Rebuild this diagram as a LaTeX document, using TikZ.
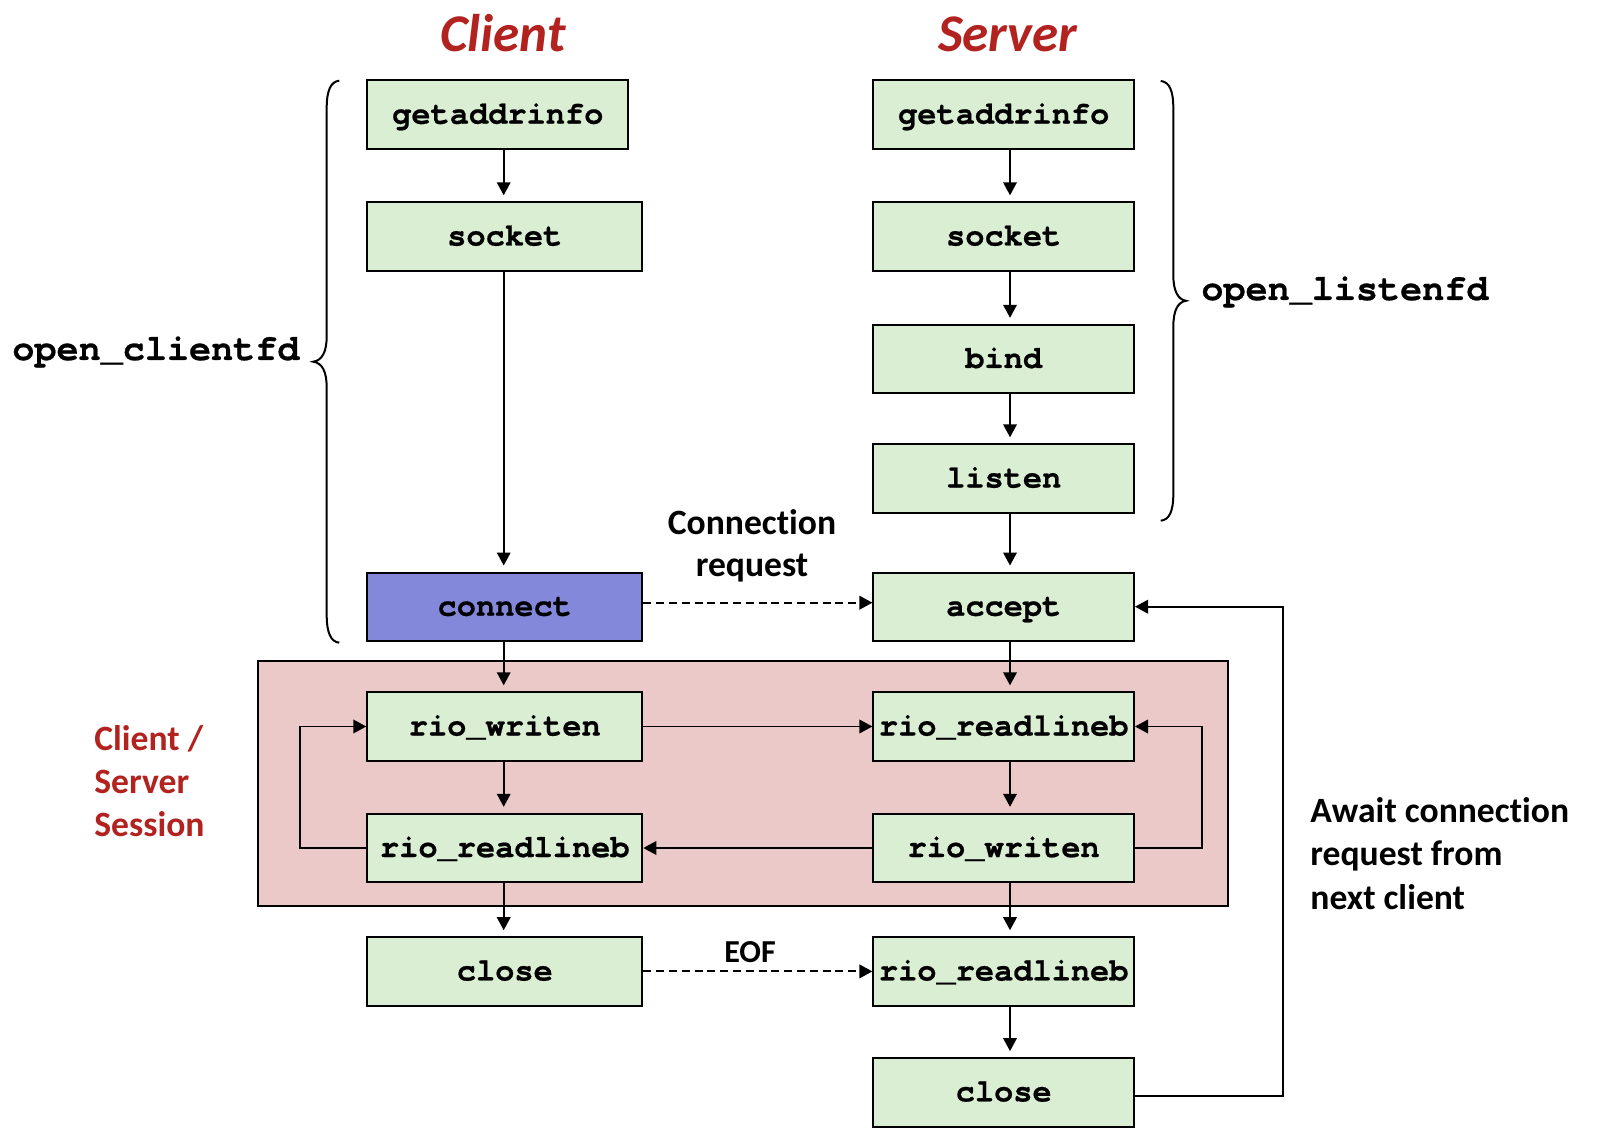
\documentclass[tikz,border=0pt]{standalone}
\usepackage{fontspec}
\setmainfont{Carlito}[Ligatures={NoCommon,NoDiscretionary}]
\newfontfamily\cour{texgyrecursor}[Extension=.otf, UprightFont=*-regular, BoldFont=*-bold, BoldFeatures={FakeBold=0.6}]
\usetikzlibrary{arrows.meta}
\definecolor{boxgreen}{RGB}{218,238,212}
\definecolor{connblue}{RGB}{132,136,218}
\definecolor{sesspink}{RGB}{235,201,200}
\definecolor{titlered}{RGB}{178,34,30}
\begin{document}
\begin{tikzpicture}[x=0.5pt,y=-0.5pt,
  fn/.style={draw=black, line width=1pt, fill=boxgreen, minimum height=34.2pt, inner sep=0pt,
    text height=11pt, text depth=2pt, text=black, font=\cour\bfseries\fontsize{16}{19}\selectfont},
  cw/.style={minimum width=137.5pt},
  sw/.style={minimum width=130.3pt},
  conn/.style={line width=0.85pt, -{Triangle[length=6.5pt,width=6.8pt]}},
  vconn/.style={conn, shorten >=3pt},
  dashconn/.style={conn, line width=1pt, dash pattern=on 4pt off 2.4pt},
  bracepath/.style={line width=1pt},
  monolbl/.style={inner sep=0pt, anchor=base west, font=\cour\bfseries\fontsize{18.4}{22}\selectfont},
  sanslbl/.style={inner sep=0pt, font=\bfseries\fontsize{17.8}{21}\selectfont},
  redlbl/.style={sanslbl, anchor=base west, text=titlered},
  title/.style={inner sep=0pt, anchor=base, text=titlered, font=\bfseries\itshape\fontsize{26.5}{31}\selectfont}
]
\useasboundingbox (0,0) rectangle (1600,1144);

% session background
\draw[fill=sesspink, line width=1pt] (258.3,661) rectangle (1227.6,906.4);

% titles
\node[title] (tclient) at (503,52) {Client};
\node[title] (tserver) at (1007.7,52) {Server};

% client column
\node[fn, minimum width=130.5pt] (cga) at (497.8,114.7) {getaddrinfo};
\node[fn, cw] (cso) at (504.8,236.5) {socket};
\node[fn, cw, fill=connblue] (cco) at (504.8,606.7) {connect};
\node[fn, cw] (cwr) at (504.8,726.5) {rio\_writen};
\node[fn, cw] (crl) at (504.8,848) {rio\_readlineb};
\node[fn, cw] (ccl) at (504.8,971.4) {close};

% server column
\node[fn, sw] (sga) at (1003.7,114.7) {getaddrinfo};
\node[fn, sw] (sso) at (1003.7,236.5) {socket};
\node[fn, sw] (sbi) at (1003.7,359) {bind};
\node[fn, sw] (sli) at (1003.7,478.5) {listen};
\node[fn, sw] (sac) at (1003.7,606.7) {accept};
\node[fn, sw] (srl) at (1003.7,726.5) {rio\_readlineb};
\node[fn, sw] (swr) at (1003.7,848) {rio\_writen};
\node[fn, sw] (srl2) at (1003.7,971.4) {rio\_readlineb};
\node[fn, sw] (scl) at (1003.7,1092.3) {close};

% helper coordinates
\coordinate (cx) at (503.7,0);
\coordinate (sx) at (1010,0);
\coordinate (cloop) at (300,0);
\coordinate (sloop) at (1201.7,0);
\coordinate (aloop) at (1283,0);

% client vertical arrows
\draw[vconn] (cga.south -| cx) -- (cso.north -| cx);
\draw[vconn] (cso.south -| cx) -- (cco.north -| cx);
\draw[vconn] (cco.south -| cx) -- (cwr.north -| cx);
\draw[vconn] (cwr.south -| cx) -- (crl.north -| cx);
\draw[vconn] (crl.south -| cx) -- (ccl.north -| cx);

% server vertical arrows
\draw[vconn] (sga.south -| sx) -- (sso.north -| sx);
\draw[vconn] (sso.south -| sx) -- (sbi.north -| sx);
\draw[vconn] (sbi.south -| sx) -- (sli.north -| sx);
\draw[vconn] (sli.south -| sx) -- (sac.north -| sx);
\draw[vconn] (sac.south -| sx) -- (srl.north -| sx);
\draw[vconn] (srl.south -| sx) -- (swr.north -| sx);
\draw[vconn] (swr.south -| sx) -- (srl2.north -| sx);
\draw[vconn] (srl2.south -| sx) -- (scl.north -| sx);

% horizontal connectors
\draw[dashconn] ([yshift=2pt]cco.east) -- ([yshift=2pt]sac.west);
\draw[conn] (cwr.east) -- (srl.west);
\draw[conn] (swr.west) -- (crl.east);
\draw[dashconn] (ccl.east) -- (srl2.west);

% loops
\draw[conn] (crl.west) -- (crl.west -| cloop) |- (cwr.west);
\draw[conn] (swr.east) -- (swr.east -| sloop) |- (srl.east);
\draw[conn] ([yshift=-2pt]scl.east) -- ([yshift=-2pt]scl.east -| aloop) |- (sac.east);

% braces
\draw[bracepath] (339.3,80.7) .. controls (331,81.5) and (326.7,90) .. (326.7,108)
  -- (326.7,336) .. controls (326.7,352) and (322,360.5) .. (313.3,361.7)
  .. controls (322,363) and (326.7,371) .. (326.7,388)
  -- (326.7,615) .. controls (326.7,633) and (331,641.9) .. (339.3,642.7);
\draw[bracepath] (1160.7,81) .. controls (1169,81.8) and (1173.3,90) .. (1173.3,108)
  -- (1173.3,275) .. controls (1173.3,291) and (1178,299.6) .. (1186,300.8)
  .. controls (1178,302) and (1173.3,310) .. (1173.3,327)
  -- (1173.3,494) .. controls (1173.3,512) and (1169,519.9) .. (1160.7,520.7);

% brace labels
\node[monolbl] (ocfd) at (12,360) {open\_clientfd};
\node[monolbl] (olfd) at (1201,300) {open\_listenfd};

% labels
\node[sanslbl, anchor=base] (cr1) at (752,534.3) {Connection};
\node[sanslbl, anchor=base] (cr2) at (752,576.7) {request};
\node[sanslbl, anchor=base, font=\bfseries\fontsize{16}{19}\selectfont] (eof) at (750,962) {EOF};

\node[redlbl] (ss1) at (94,750) {Client /};
\node[redlbl] (ss2) at (94,793.3) {Server};
\node[redlbl] (ss3) at (94,836.7) {Session};

\node[sanslbl, anchor=base west] (aw1) at (1310,822) {Await connection};
\node[sanslbl, anchor=base west] (aw2) at (1310,865.5) {request from};
\node[sanslbl, anchor=base west] (aw3) at (1310,909) {next client};
\end{tikzpicture}
\end{document}
